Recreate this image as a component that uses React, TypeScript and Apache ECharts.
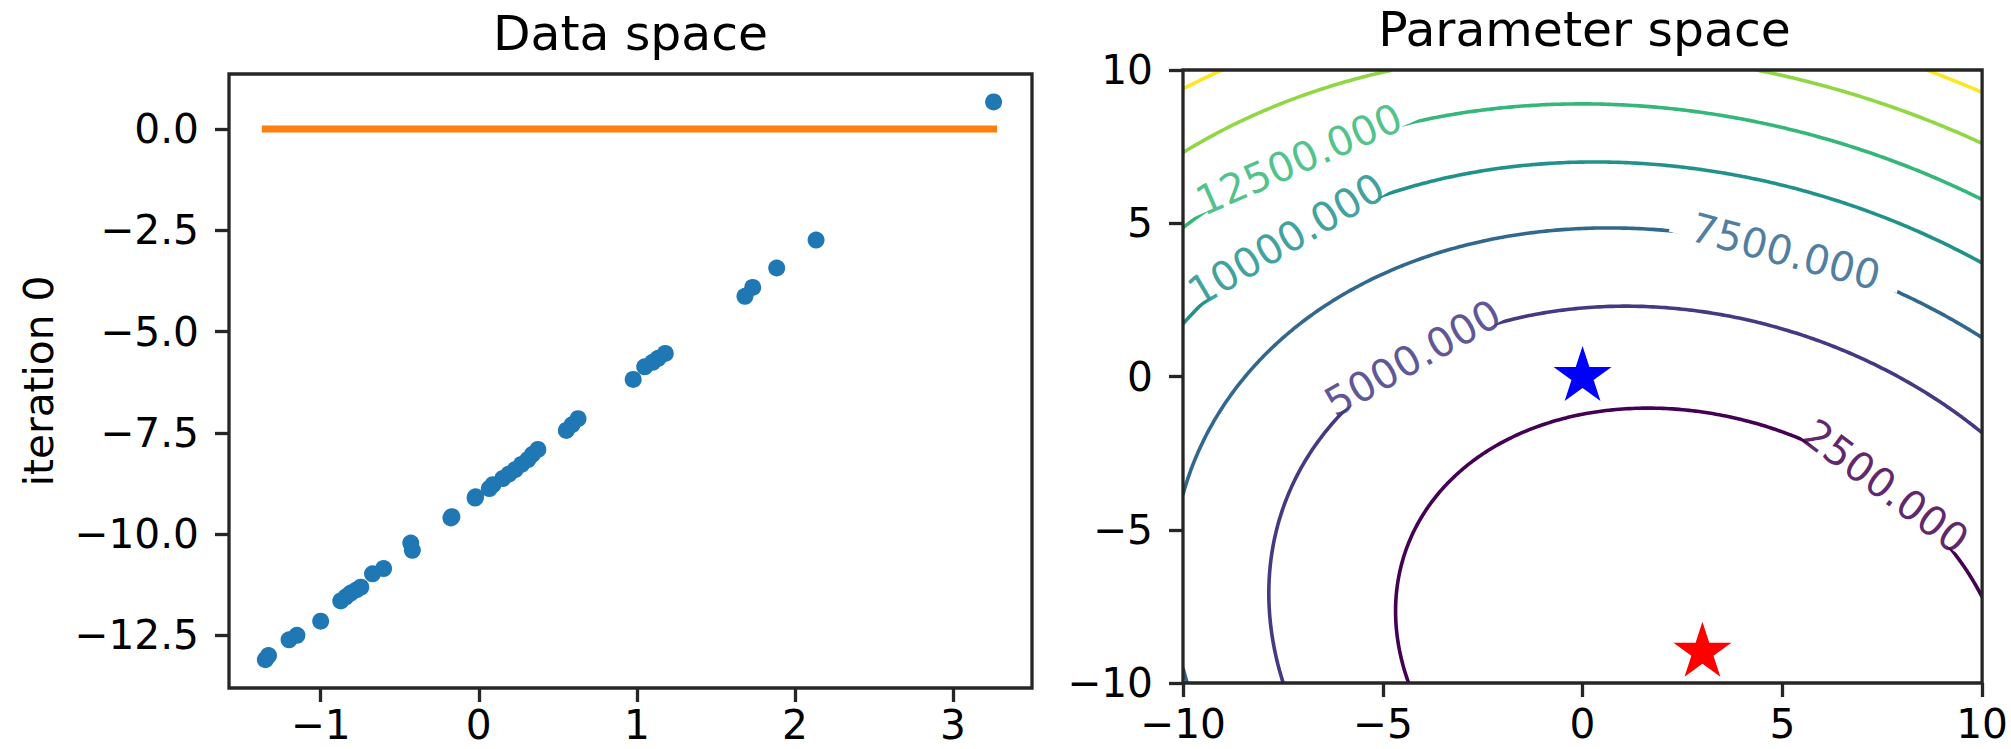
import React, { useEffect, useRef } from 'react';
import * as echarts from 'echarts';

// ---------- data ----------
const dataX = [-1.35, -1.33, -1.2, -1.15, -1.0, -0.873, -0.84, -0.81, -0.775, -0.746, -0.672, -0.602, -0.43, -0.42, -0.176, -0.17, -0.023, -0.02, 0.067, 0.09, 0.152, 0.19, 0.23, 0.27, 0.311, 0.34, 0.374, 0.554, 0.59, 0.628, 0.977, 1.05, 1.1, 1.135, 1.18, 1.684, 1.733, 1.885, 2.134, 3.257];
const dataY = [-13.1, -13.0, -12.61, -12.5, -12.15, -11.65, -11.55, -11.455, -11.38, -11.31, -10.98, -10.85, -10.22, -10.4, -9.6, -9.57, -9.11, -9.08, -8.875, -8.78, -8.63, -8.52, -8.41, -8.28, -8.16, -8.03, -7.91, -7.44, -7.3, -7.15, -6.18, -5.87, -5.76, -5.66, -5.54, -4.13, -3.91, -3.43, -2.74, 0.67];

// current model parameters (slope, intercept) at iteration 0 and the true ones
const currentParams = [0, 0];
const trueParams = [3, -9];

const dataXTicks = [-1, 0, 1, 2, 3];
const dataYTicks = [0, -2.5, -5, -7.5, -10, -12.5];
const paramTicks = [-10, -5, 0, 5, 10];

const contourLevels = [2500, 5000, 7500, 10000, 12500, 15000, 17500];
const contourColors = ['#440154', '#443983', '#31688e', '#21918c', '#35b779', '#90d743', '#fde725'];
const labelLevels = [12500, 10000, 7500, 5000, 2500];
const labelAnchors = [[-7.06, 7.0], [-7.4, 4.4], [5.2, 4.3], [-4.2, 0.55], [8.1, -3.1]];

// ---------- style constants ----------
const FONT = 'DejaVu Sans';
const TICK_FS = 40.7;
const TITLE_FS = 48.8;
const SPINE = '#262626';
const SPINE_W = 3.3;
const TICK_LEN = 14;

const minus = (s: string) => s.replace('-', '\u2212');

// ---------- loss surface over parameter space ----------
function loss(a: number, b: number) {
  let s = 0;
  for (let i = 0; i < dataX.length; i++) {
    const r = a * dataX[i] + b - dataY[i];
    s += r * r;
  }
  return s;
}

const G = 241;
const gridVals: number[] = Array.from({ length: G }, (_, i) => -10 + (20 * i) / (G - 1));
const surface: number[][] = gridVals.map((a) => gridVals.map((b) => loss(a, b)));

function contourPolylines(level: number): number[][][] {
  const pts = new Map<string, number[]>();
  const adj = new Map<string, string[]>();
  const add = (k: string, p: number[]) => {
    if (!pts.has(k)) { pts.set(k, p); adj.set(k, []); }
  };
  const link = (a: string, b: string) => { adj.get(a)!.push(b); adj.get(b)!.push(a); };
  for (let i = 0; i < G - 1; i++) {
    for (let j = 0; j < G - 1; j++) {
      const v00 = surface[i][j], v10 = surface[i + 1][j], v11 = surface[i + 1][j + 1], v01 = surface[i][j + 1];
      const e: string[] = [];
      if ((v00 > level) !== (v10 > level)) {
        const t = (level - v00) / (v10 - v00);
        const k = 'h' + i + '_' + j; add(k, [gridVals[i] + t * (gridVals[i + 1] - gridVals[i]), gridVals[j]]); e.push(k);
      }
      if ((v10 > level) !== (v11 > level)) {
        const t = (level - v10) / (v11 - v10);
        const k = 'v' + (i + 1) + '_' + j; add(k, [gridVals[i + 1], gridVals[j] + t * (gridVals[j + 1] - gridVals[j])]); e.push(k);
      }
      if ((v01 > level) !== (v11 > level)) {
        const t = (level - v01) / (v11 - v01);
        const k = 'h' + i + '_' + (j + 1); add(k, [gridVals[i] + t * (gridVals[i + 1] - gridVals[i]), gridVals[j + 1]]); e.push(k);
      }
      if ((v00 > level) !== (v01 > level)) {
        const t = (level - v00) / (v01 - v00);
        const k = 'v' + i + '_' + j; add(k, [gridVals[i], gridVals[j] + t * (gridVals[j + 1] - gridVals[j])]); e.push(k);
      }
      if (e.length === 2) link(e[0], e[1]);
      else if (e.length === 4) { link(e[0], e[1]); link(e[2], e[3]); }
    }
  }
  const used = new Set<string>();
  const walk = (start: string) => {
    const line = [pts.get(start)!];
    used.add(start);
    let cur = start;
    for (;;) {
      const nx = adj.get(cur)!.filter((k) => !used.has(k));
      if (!nx.length) break;
      cur = nx[0];
      used.add(cur);
      line.push(pts.get(cur)!);
    }
    return line;
  };
  const out: number[][][] = [];
  for (const k of adj.keys()) if (!used.has(k) && adj.get(k)!.length === 1) out.push(walk(k));
  for (const k of adj.keys()) if (!used.has(k)) { const l = walk(k); l.push(l[0]); out.push(l); }
  return out;
}

const contourLines: { pts: number[][]; color: string }[] = [];
const linesByLevel: number[][][][] = [];
contourLevels.forEach((lv, li) => {
  const pl = contourPolylines(lv);
  linesByLevel.push(pl);
  pl.forEach((p) => contourLines.push({ pts: p, color: contourColors[li] }));
});

function measure(text: string, fs: number) {
  const c = document.createElement('canvas').getContext('2d')!;
  c.font = `${fs}px "${FONT}"`;
  return c.measureText(text).width;
}

const labelInfos = labelLevels.map((lv, n) => {
  const li = contourLevels.indexOf(lv);
  const anchor = labelAnchors[n];
  let best = { d: Infinity, line: 0, idx: 0 };
  linesByLevel[li].forEach((line, lIdx) => {
    line.forEach((p, idx) => {
      const d = (p[0] - anchor[0]) ** 2 + (p[1] - anchor[1]) ** 2;
      if (d < best.d) best = { d, line: lIdx, idx };
    });
  });
  const line = linesByLevel[li][best.line];
  const i1 = Math.max(0, best.idx - 3);
  const i2 = Math.min(line.length - 1, best.idx + 3);
  const text = lv.toFixed(3);
  return { p: line[best.idx], p1: line[i1], p2: line[i2], text, color: contourColors[li], w: 0 };
});

// star marker path (matplotlib '*')
const starPath = (() => {
  let d = '';
  for (let k = 0; k < 10; k++) {
    const ang = -Math.PI / 2 + (k * Math.PI) / 5;
    const r = k % 2 === 0 ? 1 : 0.381966;
    d += (k === 0 ? 'M' : 'L') + (r * Math.cos(ang)).toFixed(4) + ' ' + (r * Math.sin(ang)).toFixed(4) + ' ';
  }
  return 'path://' + d + 'Z';
})();

const tickLabelStyle = { fontFamily: FONT, fontSize: TICK_FS, color: '#000' };

export default function App() {
  const ref = useRef<HTMLDivElement>(null);
  useEffect(() => {
    if (!ref.current) return;
    labelInfos.forEach((l) => { l.w = measure(l.text, TICK_FS); });
    const chart = echarts.init(ref.current, undefined, { renderer: 'svg' });
    const xMinD = Math.min(...dataX);
    const xMaxD = Math.max(...dataX);

    const axisCommon = {
      type: 'value' as const,
      axisLine: { show: false, onZero: false },
      splitLine: { show: false },
      axisTick: { show: true, inside: false, length: TICK_LEN, lineStyle: { color: SPINE, width: SPINE_W } },
    };

    chart.setOption({
      animation: false,
      backgroundColor: '#fff',
      grid: [
        { left: 229, top: 74, width: 803, height: 614, show: true, borderColor: SPINE, borderWidth: SPINE_W, backgroundColor: 'transparent', z: 10 },
        { left: 1183, top: 70, width: 803, height: 613, show: true, borderColor: SPINE, borderWidth: SPINE_W, backgroundColor: 'transparent', z: 10 },
      ],
      graphic: [
        { type: 'text', x: 630.5, y: 57.5, z: 20, style: { text: 'Data space', fontFamily: FONT, fontSize: TITLE_FS, fill: '#000', align: 'center', verticalAlign: 'bottom' } },
        { type: 'text', x: 1584.5, y: 53.5, z: 20, style: { text: 'Parameter space', fontFamily: FONT, fontSize: TITLE_FS, fill: '#000', align: 'center', verticalAlign: 'bottom' } },
      ],
      xAxis: [
        {
          ...axisCommon, gridIndex: 0, min: -1.58, max: 3.5,
          axisTick: { ...axisCommon.axisTick, customValues: dataXTicks },
          axisLabel: { ...tickLabelStyle, lineHeight: 30, margin: 22, customValues: dataXTicks, formatter: (v: number) => minus(String(v)) },
        },
        {
          ...axisCommon, gridIndex: 1, min: -10, max: 10, interval: 5,
          axisLabel: { ...tickLabelStyle, lineHeight: 30, margin: 26, customValues: paramTicks, formatter: (v: number) => minus(String(v)) },
        },
      ],
      yAxis: [
        {
          ...axisCommon, gridIndex: 0, min: -13.8, max: 1.36,
          axisTick: { ...axisCommon.axisTick, customValues: dataYTicks },
          axisLabel: { ...tickLabelStyle, margin: 30, customValues: dataYTicks, formatter: (v: number) => minus(v.toFixed(1)) },
          name: 'iteration 0', nameLocation: 'middle', nameRotate: 90, nameGap: 170,
          nameTextStyle: { fontFamily: FONT, fontSize: TICK_FS, color: '#000' },
        },
        {
          ...axisCommon, gridIndex: 1, min: -10, max: 10, interval: 5,
          axisLabel: { ...tickLabelStyle, margin: 30, customValues: paramTicks, formatter: (v: number) => minus(String(v)) },
        },
      ],
      series: [
        {
          type: 'scatter', xAxisIndex: 0, yAxisIndex: 0, z: 2,
          symbol: 'circle', symbolSize: 17,
          itemStyle: { color: '#1f77b4', opacity: 1 },
          data: dataX.map((x, i) => [x, dataY[i]]),
        },
        {
          type: 'line', xAxisIndex: 0, yAxisIndex: 0, z: 3, showSymbol: false, symbol: 'none',
          lineStyle: { color: '#ff7f0e', width: 7, cap: 'square' },
          data: [[xMinD, currentParams[0] * xMinD + currentParams[1]], [xMaxD, currentParams[0] * xMaxD + currentParams[1]]],
        },
        {
          type: 'custom', xAxisIndex: 1, yAxisIndex: 1, z: 2, clip: true,
          data: contourLines.map((c) => [c.pts[0][0], c.pts[0][1]]),
          renderItem: (params: any, api: any) => {
            const c = contourLines[params.dataIndex];
            return {
              type: 'polyline',
              shape: { points: c.pts.map((p) => api.coord(p)) },
              style: { stroke: c.color, lineWidth: 3.6, fill: null },
            };
          },
        },
        {
          type: 'custom', xAxisIndex: 1, yAxisIndex: 1, z: 3,
          data: labelInfos.map((l) => [l.p[0], l.p[1]]),
          renderItem: (params: any, api: any) => {
            const l = labelInfos[params.dataIndex];
            const c = api.coord(l.p);
            const a = api.coord(l.p1);
            const b = api.coord(l.p2);
            let ang = Math.atan2(-(b[1] - a[1]), b[0] - a[0]);
            if (ang > Math.PI / 2) ang -= Math.PI;
            if (ang < -Math.PI / 2) ang += Math.PI;
            const w = l.w + 42;
            return {
              type: 'group', x: c[0], y: c[1], rotation: ang,
              children: [
                { type: 'rect', shape: { x: -w / 2, y: -11, width: w, height: 22 }, style: { fill: '#fff' } },
                { type: 'text', style: { text: l.text, x: 0, y: 0, fill: l.color, fontFamily: FONT, fontSize: TICK_FS, align: 'center', verticalAlign: 'middle', opacity: 0.85 } },
              ],
            };
          },
        },
        {
          type: 'scatter', xAxisIndex: 1, yAxisIndex: 1, z: 5,
          symbol: starPath, symbolSize: [58, 55], symbolOffset: [0, -3],
          itemStyle: { color: '#0000ff', opacity: 1 },
          data: [currentParams],
        },
        {
          type: 'scatter', xAxisIndex: 1, yAxisIndex: 1, z: 5,
          symbol: starPath, symbolSize: [58, 55], symbolOffset: [0, -3],
          itemStyle: { color: '#ff0000', opacity: 1 },
          data: [trueParams],
        },
      ],
    });
    return () => chart.dispose();
  }, []);
  return <div ref={ref} style={{ position: 'absolute', left: 0, top: 0, width: 2011, height: 749, background: '#fff' }} />;
}
